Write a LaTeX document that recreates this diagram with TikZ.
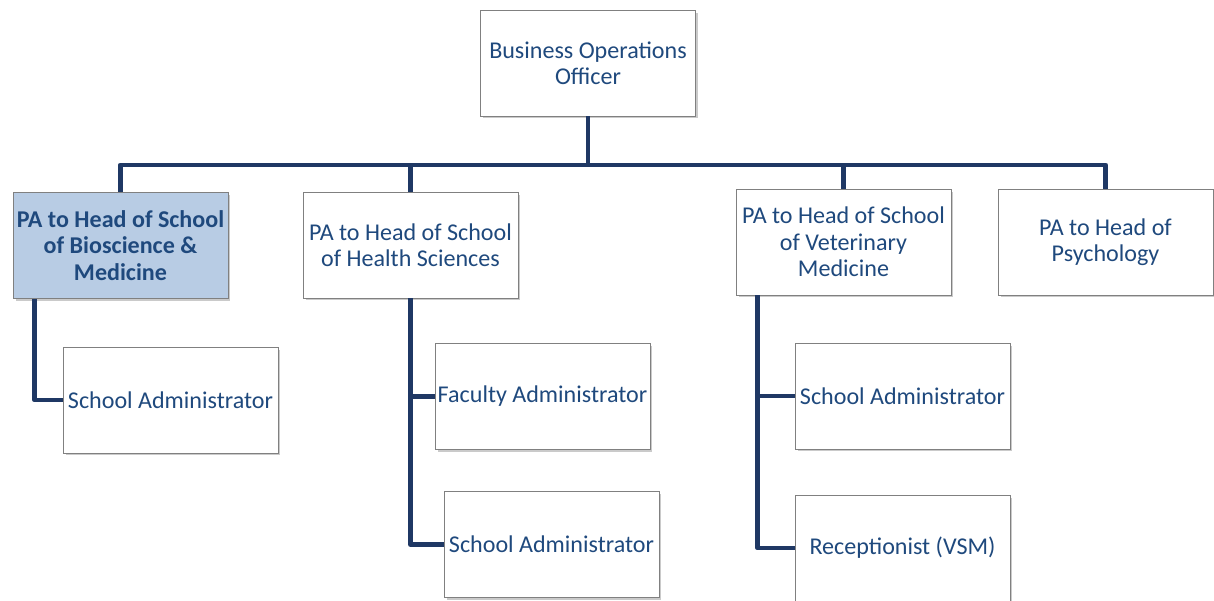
\documentclass[tikz,border=0pt]{standalone}
\usepackage{fontspec}
\setmainfont{Carlito}
\usepackage{tikz}
\usetikzlibrary{shadows, positioning}
\definecolor{txtblue}{RGB}{31,73,125}
\definecolor{linenavy}{RGB}{31,56,100}
\definecolor{paleblue}{RGB}{184,204,228}
\tikzset{
  x=0.02cm,
  y=-0.02cm,
  post/.style={draw=black!50, line width=0.5pt, fill=white, text=txtblue,
    minimum width=4.3cm, minimum height=2.12cm, align=center,
    font=\fontsize{13.7}{15}\selectfont, inner sep=1pt,
    drop shadow={shadow xshift=0.05cm, shadow yshift=-0.05cm, opacity=0.35, fill=black!60}},
  lead/.style={post, fill=paleblue, font=\fontsize{13.7}{15}\selectfont\bfseries},
  link/.style={draw=linenavy, line width=2.8pt, line join=round},
}

\begin{document}
\begin{tikzpicture}
    \useasboundingbox (0,0) rectangle (1214,601);

    % posts
    \node[post] (boo) at (588,63) {Business Operations\\Officer};
    \node[lead] (pa1) at (120.5,245.5) {PA to Head of School\\of Bioscience \&\\Medicine};
    \node[post] (pa2) at (410.5,245) {PA to Head of School\\of Health Sciences};
    \node[post] (pa3) at (843.5,242) {PA to Head of School\\of Veterinary\\Medicine};
    \node[post] (pa4) at (1105.5,242) {PA to Head of\\Psychology};
    \node[post] (sa1) at (170.5,400) {School Administrator};
    \node[post] (fa) at (542.5,396.5) {Faculty Administrator};
    \node[post] (sa2) at (551.5,544.5) {School Administrator};
    \node[post] (sa3) at (902.5,396) {School Administrator};
    \node[post] (rec) at (902.5,548) {Receptionist (VSM)};

    % links
    \coordinate (bus) at (588,165);
    \draw[link] (boo.south) -- (bus) -| (pa1.north);
    \draw[link] (bus) -| (pa2.north);
    \draw[link] (bus) -| (pa3.north);
    \draw[link] (bus) -| (pa4.north);
    \draw[link] (pa1.south west) ++(22,0) |- (sa1.west);
    \draw[link] (pa2.south) |- (fa.west);
    \draw[link] (pa2.south) |- (sa2.west);
    \draw[link] (pa3.south west) ++(22,0) |- (sa3.west);
    \draw[link] (pa3.south west) ++(22,0) |- (rec.west);
\end{tikzpicture}
\end{document}
